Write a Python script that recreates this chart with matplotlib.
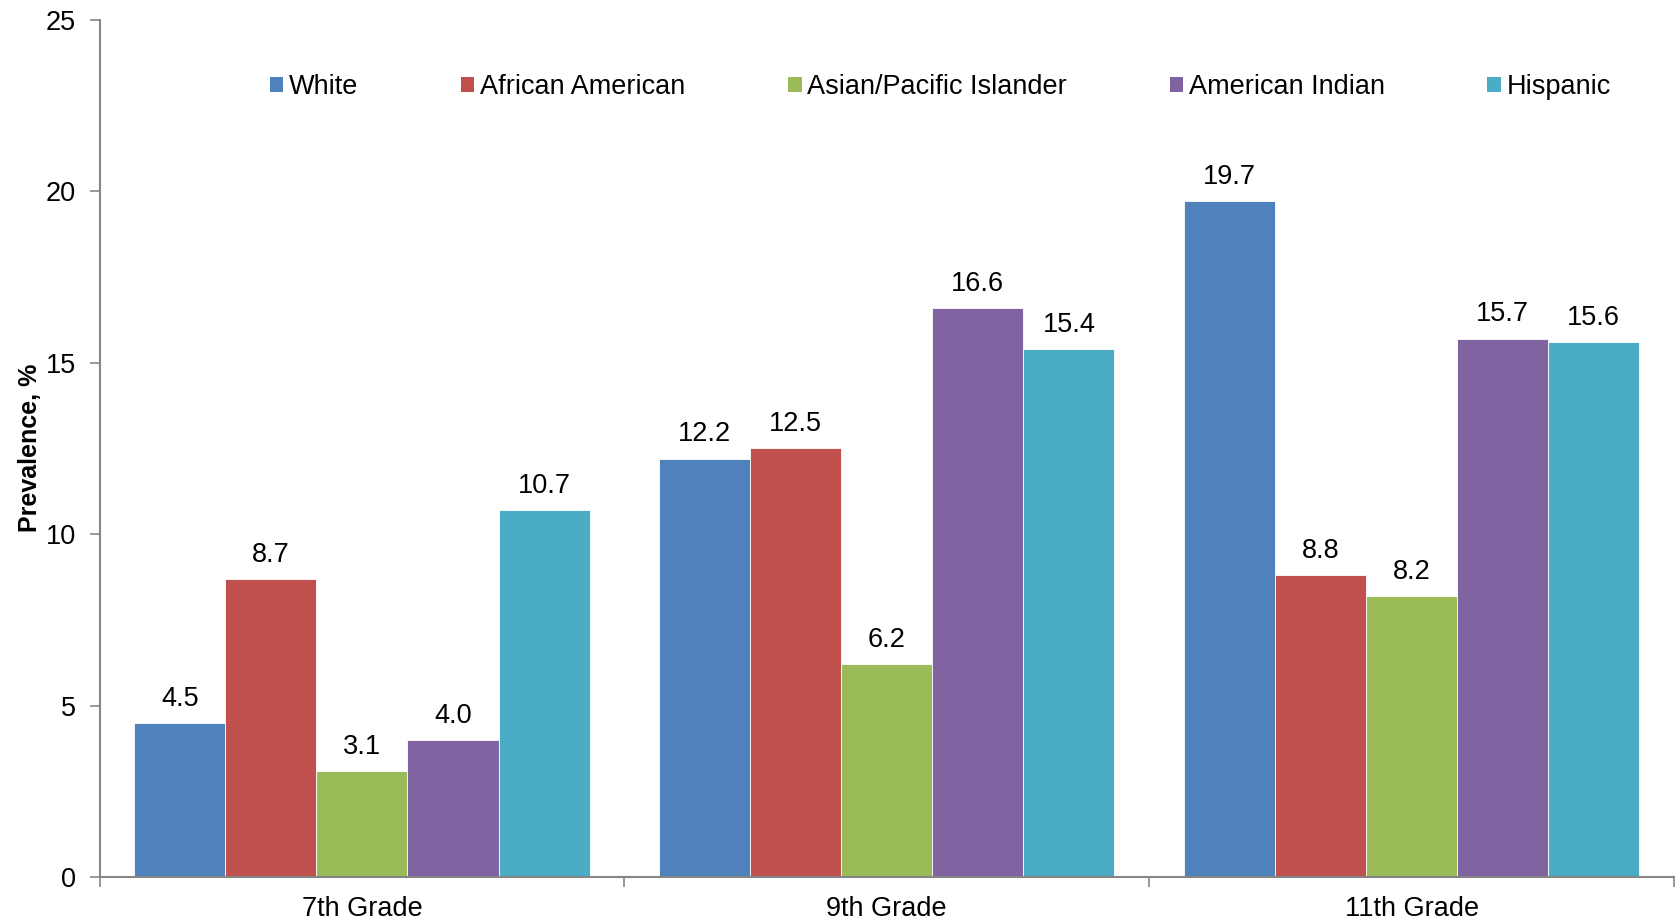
import numpy as np
import matplotlib
matplotlib.use("Agg")
import matplotlib.pyplot as plt
from matplotlib.patches import Patch

plt.rcParams["font.family"] = ["Liberation Sans", "DejaVu Sans"]

grades = ["7th Grade", "9th Grade", "11th Grade"]
groups = ["White", "African American", "Asian/Pacific Islander", "American Indian", "Hispanic"]
white = [4.5, 12.2, 19.7]
african_american = [8.7, 12.5, 8.8]
asian_pacific = [3.1, 6.2, 8.2]
american_indian = [4.0, 16.6, 15.7]
hispanic = [10.7, 15.4, 15.6]
series = [white, african_american, asian_pacific, american_indian, hispanic]
palette = ["#4F81BD", "#C0504D", "#9BBB59", "#8064A2", "#4BACC6"]

fs = 19.5

fig = plt.figure(figsize=(16.79, 9.23), dpi=100)
ax = fig.add_axes([0.0593, 0.0498, 0.9377, 0.929])

x = np.arange(len(grades))
w = 0.1735
for i, (vals, c) in enumerate(zip(series, palette)):
    pos = x + (i - 2) * w
    bars = ax.bar(pos, vals, width=w, color=c, edgecolor="white", linewidth=0.6, zorder=2)
    for b, v in zip(bars, vals):
        ax.annotate(f"{v:.1f}", (b.get_x() + b.get_width() / 2, v),
                    xytext=(0, 8), textcoords="offset points",
                    ha="center", va="bottom", fontsize=fs)

ax.set_xlim(-0.5, 2.5)
ax.set_ylim(0, 25)
ax.set_yticks([0, 5, 10, 15, 20, 25])
ax.set_xticks(x)
ax.set_xticklabels(grades)
ax.set_xticks([-0.5, 0.5, 1.5, 2.5], minor=True)
ax.tick_params(axis="x", which="major", length=0, pad=14, labelsize=fs)
ax.tick_params(axis="x", which="minor", length=7, width=1.2, color="#868686", direction="out")
ax.tick_params(axis="y", length=7, width=1.2, color="#868686", labelsize=fs, pad=10)

for s in ["top", "right"]:
    ax.spines[s].set_visible(False)
for s in ["left", "bottom"]:
    ax.spines[s].set_color("#868686")
    ax.spines[s].set_linewidth(1.5)

ax.set_ylabel("Prevalence, %", fontsize=18, fontweight="bold", labelpad=3)

handles = [Patch(facecolor=c, edgecolor="none") for c in palette]
ax.legend(handles, groups, ncol=5, loc="center left", bbox_to_anchor=(0.108, 0.921),
          frameon=False, fontsize=fs, handlelength=0.5, handleheight=0.5,
          handletextpad=0.2, columnspacing=3.8, borderpad=0, borderaxespad=0)

fig.savefig("out.png", dpi=100)
plt.close(fig)
